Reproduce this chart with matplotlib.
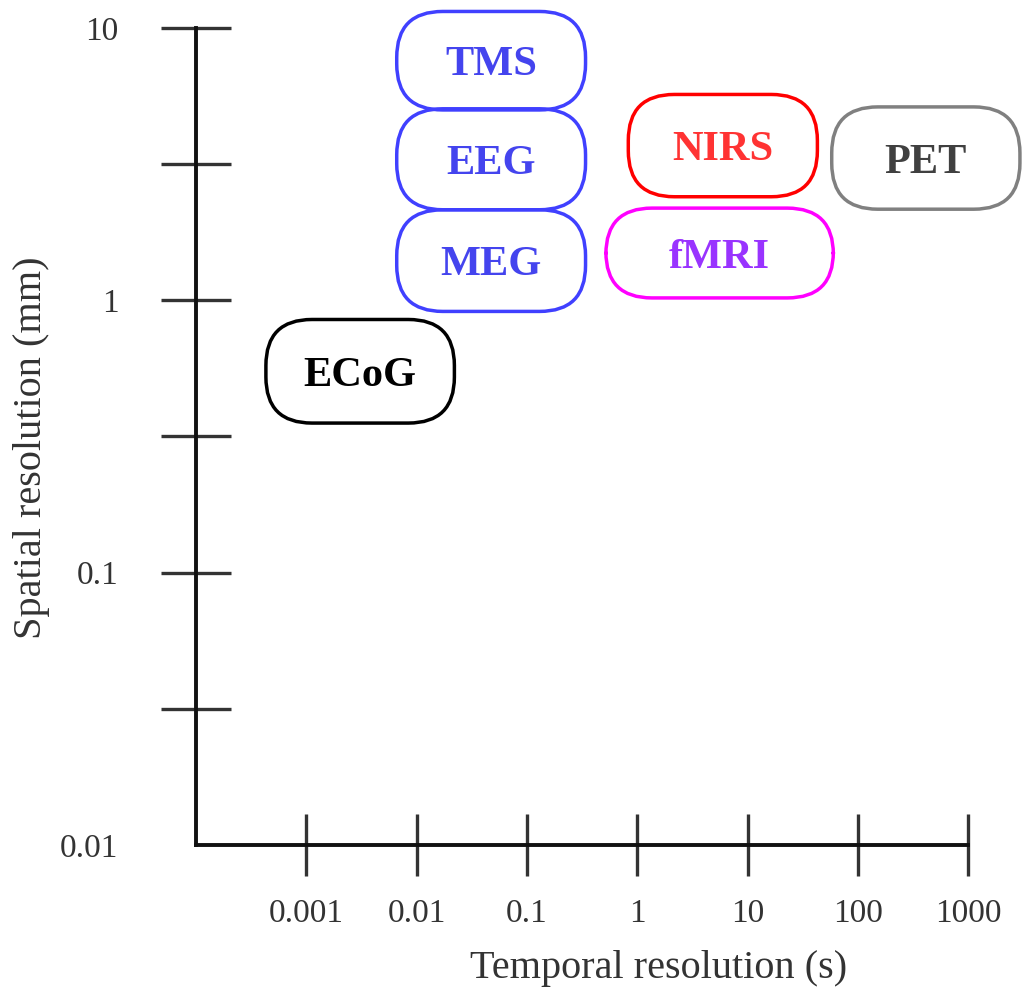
import matplotlib
matplotlib.use('Agg')
import numpy as np
import matplotlib.pyplot as plt
from matplotlib.patches import FancyBboxPatch
from matplotlib.transforms import IdentityTransform
from matplotlib.ticker import NullLocator, NullFormatter

# brain imaging techniques: temporal span (s) and spatial span (mm) of each box
techniques = ['TMS', 'EEG', 'MEG', 'NIRS', 'fMRI', 'PET', 'ECoG']
time_lo = [0.0066, 0.0066, 0.0066, 0.83, 0.52, 58.0, 0.00043]
time_hi = [0.34, 0.34, 0.34, 43.0, 60.0, 2950.0, 0.022]
space_lo = [5.0, 2.15, 0.91, 2.4, 1.02, 2.16, 0.354]
space_hi = [11.5, 5.05, 2.15, 5.7, 2.18, 5.13, 0.85]

x_ticks = [0.001, 0.01, 0.1, 1, 10, 100, 1000]
x_labels = ['0.001', '0.01', '0.1', '1', '10', '100', '1000']
y_ticks = [0.01, 0.1, 1, 10]
y_labels = ['0.01', '0.1', '1', '10']
y_half = [10 ** -1.5, 10 ** -0.5, 10 ** 0.5]

edge_colors = ['#4040ff', '#4040ff', '#4040ff', '#ff0000', '#ff00ff', '#808080', '#000000']
text_colors = ['#4444ee', '#4444ee', '#4444ee', '#ff3333', '#9933ff', '#404040', '#000000']

plt.rcParams['font.family'] = ['Liberation Serif', 'DejaVu Serif']

fig = plt.figure(figsize=(10.22, 9.9), dpi=100)
ax = fig.add_axes([0, 0, 1, 1])
ax.set_xscale('log')
ax.set_yscale('log')
ax.set_xlim(1.67e-6, 3.08e3)
ax.set_ylim(2.93e-3, 12.67)
ax.patch.set_visible(False)

for s in ['top', 'right']:
    ax.spines[s].set_visible(False)
ax.spines['left'].set_position(('data', 1e-4))
ax.spines['left'].set_bounds(0.01, 10)
ax.spines['bottom'].set_position(('data', 0.01))
ax.spines['bottom'].set_bounds(1e-4, 1000)
for s in ['left', 'bottom']:
    ax.spines[s].set_linewidth(2.8)
    ax.spines[s].set_color('#111111')

ax.set_xticks(x_ticks, x_labels)
ax.xaxis.set_minor_locator(NullLocator())
ax.set_yticks(y_ticks, y_labels)
ax.set_yticks(y_half, minor=True)
ax.yaxis.set_minor_formatter(NullFormatter())

ax.tick_params(axis='x', which='both', direction='inout', length=45, width=2.4,
               color='#333333', pad=16, labelsize=24, labelcolor='#333333')
ax.tick_params(axis='y', which='both', direction='inout', length=50, width=2.4,
               color='#333333', pad=31, labelsize=24, labelcolor='#333333')
# no crossing tick at the corner
ax.yaxis.get_major_ticks()[0].tick1line.set_visible(False)

for i, name in enumerate(techniques):
    (x0, y0), (x1, y1) = ax.transData.transform(
        [(time_lo[i], space_lo[i]), (time_hi[i], space_hi[i])])
    box = FancyBboxPatch((x0, y0), x1 - x0, y1 - y0,
                         boxstyle='round,pad=0,rounding_size=46',
                         transform=IdentityTransform(), fc='none',
                         ec=edge_colors[i], lw=2.5, clip_on=False)
    ax.add_patch(box)
    ax.text(np.sqrt(time_lo[i] * time_hi[i]), np.sqrt(space_lo[i] * space_hi[i]),
            name, ha='center', va='center_baseline', fontsize=30.5, fontweight='bold',
            color=text_colors[i])

ax.set_xlabel('Temporal resolution (s)', fontsize=29, color='#333333', va='center')
ax.xaxis.set_label_coords(0.644, 0.022)
ax.set_ylabel('Spatial resolution (mm)', fontsize=29, color='#333333', va='center')
ax.yaxis.set_label_coords(0.031, 0.548)

fig.savefig('out.png', dpi=100)
